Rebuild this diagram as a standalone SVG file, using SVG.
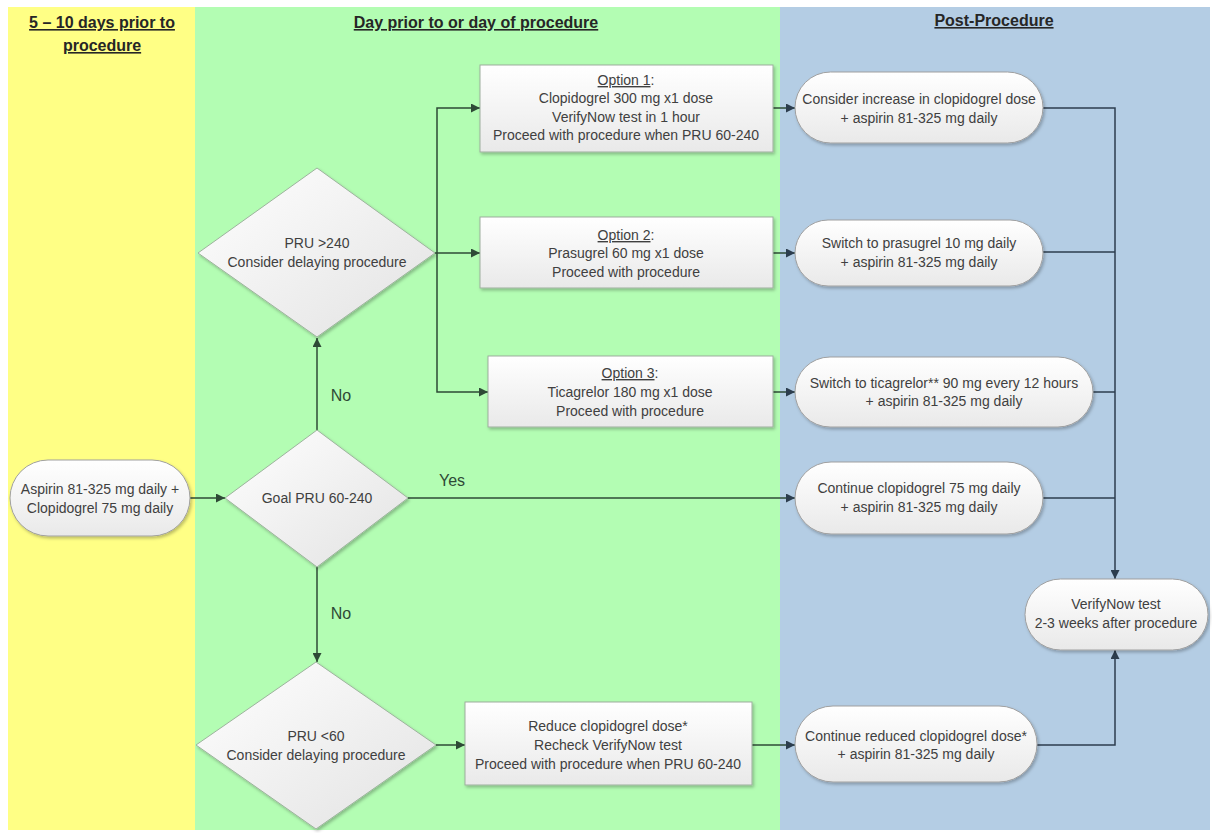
<svg xmlns="http://www.w3.org/2000/svg" width="1212" height="833" viewBox="0 0 1212 833">
<defs>
<linearGradient id="gBox" x1="0" y1="0" x2="0" y2="1"><stop offset="0" stop-color="#FFFFFF"/><stop offset="1" stop-color="#E9E9E9"/></linearGradient>
<linearGradient id="gDia" x1="0" y1="0" x2="1" y2="1"><stop offset="0" stop-color="#FFFFFF"/><stop offset="1" stop-color="#E2E2E2"/></linearGradient>
<filter id="sh" x="-10%" y="-10%" width="125%" height="130%"><feDropShadow dx="1.5" dy="2" stdDeviation="1.5" flood-color="#000" flood-opacity="0.25"/></filter>
<marker id="ag" viewBox="0 0 10 10" refX="10" refY="5" markerWidth="9" markerHeight="9" markerUnits="userSpaceOnUse" orient="auto"><path d="M0,0 L10,5 L0,10 z" fill="#2E4A36"/></marker>
<marker id="ab" viewBox="0 0 10 10" refX="10" refY="5" markerWidth="9" markerHeight="9" markerUnits="userSpaceOnUse" orient="auto"><path d="M0,0 L10,5 L0,10 z" fill="#2C3D4E"/></marker>
<style>
.t{font-family:"Liberation Sans",Arial,sans-serif;font-size:14px;fill:#404040;text-anchor:middle}
.h{font-family:"Liberation Sans",Arial,sans-serif;font-size:16px;font-weight:bold;fill:#262626;text-anchor:middle;text-decoration:underline}
.lbl{font-family:"Liberation Sans",Arial,sans-serif;font-size:16px;fill:#2E4A36;text-anchor:middle}
.u{text-decoration:underline}
.box{fill:url(#gBox);stroke:#9DAE9D;stroke-width:1;filter:url(#sh)}
.pill{fill:url(#gBox);stroke:#A0A0A0;stroke-width:1;filter:url(#sh)}
.dia{fill:url(#gDia);stroke:#9DB39D;stroke-width:1;filter:url(#sh)}
.cg{fill:none;stroke:#2E4A36;stroke-width:1.5}
.cb{fill:none;stroke:#2C3D4E;stroke-width:1.5}
</style>
</defs>

<g id="lanes">
<rect x="8" y="7" width="187" height="823" fill="#FFFF85"/>
<rect x="195" y="7" width="585" height="823" fill="#B3FDB3"/>
<rect x="780" y="7" width="430" height="823" fill="#B4CDE4"/>
<text class="h" x="102" y="28">5 – 10 days prior to</text>
<text class="h" x="102" y="51">procedure</text>
<text class="h" x="476" y="28">Day prior to or day of procedure</text>
<text class="h" x="994" y="26">Post-Procedure</text>
</g>

<g id="connectors">
<path class="cg" d="M190,498 H225" marker-end="url(#ag)"/>
<path class="cg" d="M317,430 V338" marker-end="url(#ag)"/>
<path class="cg" d="M435,253 H480" marker-end="url(#ag)"/>
<path class="cg" d="M437,253 V108 H480" marker-end="url(#ag)"/>
<path class="cg" d="M437,253 V392 H488" marker-end="url(#ag)"/>
<path class="cg" d="M408,498 H795" marker-end="url(#ab)"/>
<path class="cg" d="M317,567 V662" marker-end="url(#ag)"/>
<path class="cg" d="M436,745 H465" marker-end="url(#ag)"/>
<path class="cg" d="M752,745 H795" marker-end="url(#ab)"/>
<path class="cg" d="M773,108 H795" marker-end="url(#ab)"/>
<path class="cg" d="M773,253 H795" marker-end="url(#ab)"/>
<path class="cg" d="M773,392 H795" marker-end="url(#ab)"/>
<path class="cb" d="M1043,108 H1115 V579" marker-end="url(#ab)"/>
<path class="cb" d="M1043,252 H1115"/>
<path class="cb" d="M1093,392 H1115"/>
<path class="cb" d="M1043,498 H1115"/>
<path class="cb" d="M1037,745 H1115 V650" marker-end="url(#ab)"/>
<text class="lbl" x="341" y="401">No</text>
<text class="lbl" x="452" y="486">Yes</text>
<text class="lbl" x="341" y="619">No</text>
</g>

<g id="start">
<rect class="pill" x="10" y="460" width="180" height="76" rx="38"/>
<text class="t" x="100" y="494">Aspirin 81-325 mg daily +</text>
<text class="t" x="100" y="513">Clopidogrel 75 mg daily</text>
</g>

<g id="goal">
<polygon class="dia" points="317,430 408,498 317,567 225,498"/>
<text class="t" x="317" y="503">Goal PRU 60-240</text>
</g>

<g id="pru-high">
<polygon class="dia" points="317,168 435,253 317,337 198,253"/>
<text class="t" x="317" y="248">PRU &gt;240</text>
<text class="t" x="317" y="267">Consider delaying procedure</text>
</g>

<g id="pru-low">
<polygon class="dia" points="316,662 436,745 316,829 196,745"/>
<text class="t" x="316" y="741">PRU &lt;60</text>
<text class="t" x="316" y="760">Consider delaying procedure</text>
</g>

<g id="option1">
<rect class="box" x="480" y="65" width="293" height="87"/>
<text class="t" x="626" y="85"><tspan class="u">Option 1</tspan>:</text>
<text class="t" x="626" y="103">Clopidogrel 300 mg x1 dose</text>
<text class="t" x="626" y="122">VerifyNow test in 1 hour</text>
<text class="t" x="626" y="140">Proceed with procedure when PRU 60-240</text>
</g>

<g id="option2">
<rect class="box" x="480" y="217" width="293" height="71"/>
<text class="t" x="626" y="240"><tspan class="u">Option 2</tspan>:</text>
<text class="t" x="626" y="258">Prasugrel 60 mg x1 dose</text>
<text class="t" x="626" y="277">Proceed with procedure</text>
</g>

<g id="option3">
<rect class="box" x="488" y="356" width="285" height="71"/>
<text class="t" x="630" y="378"><tspan class="u">Option 3</tspan>:</text>
<text class="t" x="630" y="397">Ticagrelor 180 mg x1 dose</text>
<text class="t" x="630" y="416">Proceed with procedure</text>
</g>

<g id="reduce">
<rect class="box" x="465" y="702" width="287" height="83"/>
<text class="t" x="608" y="731">Reduce clopidogrel dose*</text>
<text class="t" x="608" y="750">Recheck VerifyNow test</text>
<text class="t" x="608" y="769">Proceed with procedure when PRU 60-240</text>
</g>

<g id="post1">
<rect class="pill" x="795" y="72" width="248" height="71" rx="35.5"/>
<text class="t" x="919" y="104">Consider increase in clopidogrel dose</text>
<text class="t" x="919" y="123">+ aspirin 81-325 mg daily</text>
</g>

<g id="post2">
<rect class="pill" x="795" y="220" width="248" height="66" rx="33"/>
<text class="t" x="919" y="248">Switch to prasugrel 10 mg daily</text>
<text class="t" x="919" y="267">+ aspirin 81-325 mg daily</text>
</g>

<g id="post3">
<rect class="pill" x="795" y="357" width="298" height="70" rx="35"/>
<text class="t" x="944" y="388">Switch to ticagrelor** 90 mg every 12 hours</text>
<text class="t" x="944" y="406">+ aspirin 81-325 mg daily</text>
</g>

<g id="post4">
<rect class="pill" x="795" y="462" width="248" height="72" rx="36"/>
<text class="t" x="919" y="493">Continue clopidogrel 75 mg daily</text>
<text class="t" x="919" y="512">+ aspirin 81-325 mg daily</text>
</g>

<g id="post5">
<rect class="pill" x="795" y="706" width="242" height="76" rx="38"/>
<text class="t" x="916" y="741">Continue reduced clopidogrel dose*</text>
<text class="t" x="916" y="759">+ aspirin 81-325 mg daily</text>
</g>

<g id="verify">
<rect class="pill" x="1025" y="579" width="183" height="71" rx="35.5"/>
<text class="t" x="1116" y="609">VerifyNow test</text>
<text class="t" x="1116" y="628">2-3 weeks after procedure</text>
</g>
</svg>
